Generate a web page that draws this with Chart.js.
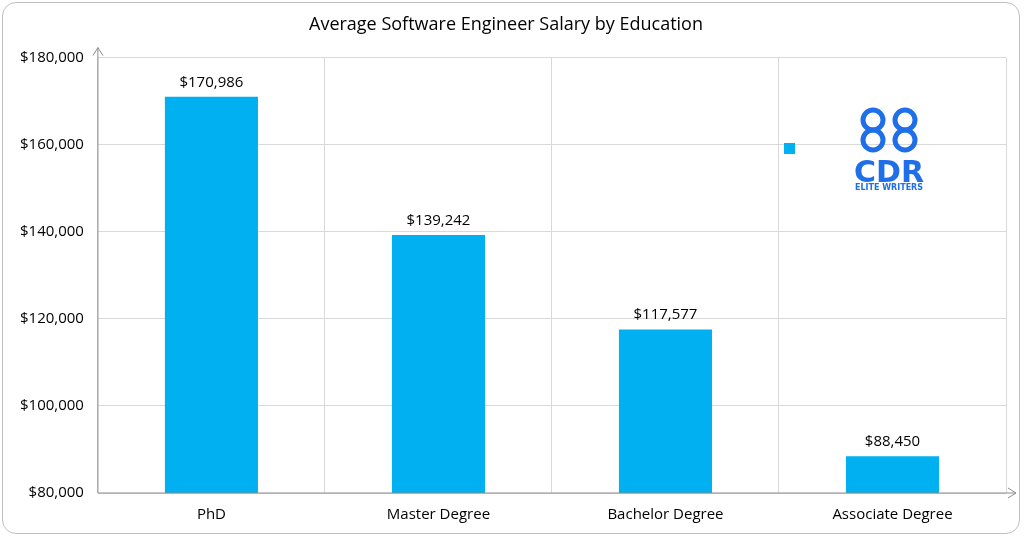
<!DOCTYPE html>
<html><head><meta charset="utf-8">
<script src="https://cdn.jsdelivr.net/npm/chart.js@4"></script>
<style>html,body{margin:0;background:#fff}#w{position:absolute;left:2px;top:2px;width:1018px;height:532px;border:1px solid #bfbfbf;border-radius:14px;box-sizing:border-box}</style>
</head><body><div id="w"></div>
<div style="position:absolute;left:0;top:0;width:1024px;height:537px"><canvas id="c"></canvas></div>
<script>
const categories=["PhD","Master Degree","Bachelor Degree","Associate Degree"];
const salaries=[170986,139242,117577,88450];
const yTicks=[80000,100000,120000,140000,160000,180000];
const fmt=v=>'$'+v.toLocaleString('en-US');
const deco={id:'deco',afterDraw(ch){const c=ch.ctx,a=ch.chartArea;c.save();c.strokeStyle='#8c8c8c';c.lineWidth=1;
c.beginPath();c.moveTo(a.left,a.bottom);c.lineTo(a.right+10,a.bottom);c.moveTo(a.right+2,a.bottom-5);c.lineTo(a.right+10,a.bottom);c.lineTo(a.right+2,a.bottom+5);
c.moveTo(a.left,a.bottom);c.lineTo(a.left,a.top-10);c.moveTo(a.left-5,a.top-2);c.lineTo(a.left,a.top-10);c.lineTo(a.left+5,a.top-2);c.stroke();
c.fillStyle='#00B0F0';c.fillRect(784,143,11,11);
c.fillStyle='#1E6FE8';c.font='bold 30px "DejaVu Sans"';c.textAlign='center';c.fillText('CDR',889,182);
c.strokeStyle='#1E6FE8';c.lineWidth=5;
[[873,120],[905,120],[873,140],[905,140]].forEach(p=>{c.beginPath();c.arc(p[0],p[1],10,0,Math.PI*2);c.stroke();});
c.font='bold 8px "DejaVu Sans"';c.fillText('ELITE WRITERS',889,190);
c.fillStyle='#000';c.font='15px "Open Sans"';
ch.getDatasetMeta(0).data.forEach((b,i)=>{c.fillText(fmt(salaries[i]),b.x,b.y-10)});c.restore();}};
new Chart(document.getElementById('c'),{type:'bar',data:{labels:categories,datasets:[{data:salaries,backgroundColor:'#00B0F0',barPercentage:0.41,categoryPercentage:1}]},
options:{responsive:true,maintainAspectRatio:false,animation:false,layout:{padding:{left:6,right:18,top:14,bottom:0}},
plugins:{legend:{display:false},tooltip:{enabled:false},title:{display:true,text:'Average Software Engineer Salary by Education',color:'#000',font:{family:'Open Sans',size:18,weight:'normal'},padding:{top:0,bottom:22}}},
scales:{x:{grid:{color:'#d9d9d9',offset:true,drawTicks:false},border:{display:false},ticks:{color:'#000',font:{family:'Open Sans',size:15},padding:13}},
y:{min:80000,max:180000,afterBuildTicks:ax=>{ax.ticks=yTicks.map(v=>({value:v}))},grid:{color:'#d9d9d9',drawTicks:false},border:{display:false},ticks:{color:'#000',font:{family:'Open Sans',size:15},padding:14,callback:v=>fmt(v)}}}},plugins:[deco]});
</script></body></html>
